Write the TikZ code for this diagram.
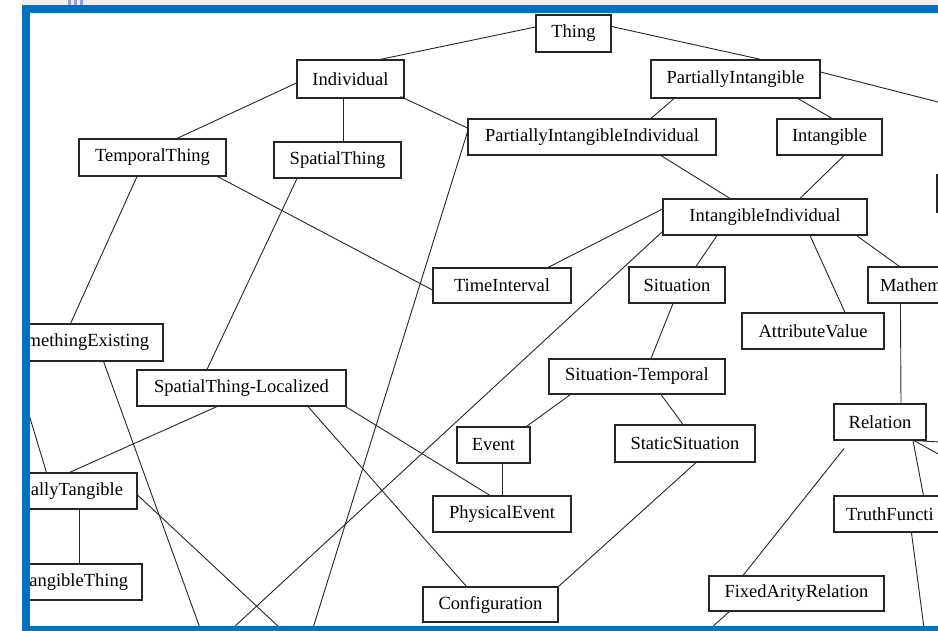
\documentclass[tikz,border=0pt]{standalone}
\usepackage{fontspec}
\setmainfont{Liberation Serif}
\usetikzlibrary{calc}
\definecolor{rahmen}{RGB}{0,112,192}
\definecolor{leiste}{RGB}{239,239,236}
\definecolor{marke}{RGB}{150,160,220}

\begin{document}
\begin{tikzpicture}[x=1pt, y=-1pt,
    box/.style={draw=black!85, line width=1.1pt, fill=white, inner sep=0pt, font=\fontsize{18.5}{22}\selectfont},
    kante/.style={black!85, line width=0.9pt}]

    \fill[white] (0,0) rectangle (938,631);
    \useasboundingbox (0,0) rectangle (938,631);

    \begin{scope}
        \clip (30,13) rectangle (938,626);

        \foreach \nm/\cx/\cy/\w/\h/\txt in {
                Thing/573.5/33.5/75/37/Thing,
                Indiv/350.5/79/107/38/Individual,
                PartInt/735.5/79/169/38/PartiallyIntangible,
                TempThing/152.5/157.5/147/37/TemporalThing,
                SpatThing/337.5/160/127/36/SpatialThing,
                PartIntInd/592/137/248/36/PartiallyIntangibleIndividual,
                Intang/829.5/137/105/36/Intangible,
                IntangInd/765/217/204/36/IntangibleIndividual,
                TimeInt/502/285.5/138/35/TimeInterval,
                Situation/677/285/96/36/Situation,
                AttrVal/813/331/142/36/AttributeValue,
                SpatLoc/241.5/388/209/36/SpatialThing-Localized,
                SitTemp/637/376.5/176/35/Situation-Temporal,
                Relation/880/422/92/36/Relation,
                Event/493.5/445/73/36/Event,
                StaticSit/685/443.5/140/37/StaticSituation,
                PhysEvent/502/514/138/36/PhysicalEvent,
                Config/490.5/604.5/135/35/Configuration,
                FixedArity/796.5/593.5/175/35/FixedArityRelation}{
                \node[box, minimum width=\w, minimum height=\h] (\nm) at (\cx,\cy) {\txt};
            }

        % boxes cut by the frame
        \node[box, minimum height=37, inner xsep=14pt, text width=125pt, align=right] (SomethExist) at (86.5,342.5) {methingExisting};
        \node[box, minimum height=36, inner xsep=14pt, text width=99pt, align=right] (PartTang) at (73.5,491) {allyTangible};
        \node[box, minimum height=36, inner xsep=14pt, text width=104pt, align=right] (TangThing) at (76,582) {angibleThing};
        \node[box, minimum height=36, inner xsep=12pt, text width=76pt, align=left] (Mathem) at (918,285) {Mathem};
        \node[box, minimum height=36, inner xsep=12pt, text width=96pt, align=left] (TruthFunc) at (894,514) {TruthFuncti};
        \node[box, minimum width=60, minimum height=37] (offbox) at (967,193.5) {};

        \coordinate (offC) at (233,628);
        \coordinate (offD) at (313,628);
        \coordinate (offE) at (200,628);
        \coordinate (offF) at (280,628);
        \coordinate (offG) at (924,628);
        \coordinate (offH) at (711,628);
        \coordinate (offL) at (24,398);
        \coordinate (offR1) at (940,102.5);
        \coordinate (offR2) at (940,442);
        \coordinate (offR3) at (940,455);

        \draw[kante] ([yshift=6.5pt]Thing.west) -- ([xshift=29.5pt]Indiv.north);
        \draw[kante] ([yshift=7pt]Thing.east) -- ([xshift=25.5pt]PartInt.north);

        \draw[kante] ([yshift=-4pt]Indiv.west) -- ([xshift=24.5pt]TempThing.north);
        \draw[kante] ([xshift=-7.5pt]Indiv.south) -- ([xshift=5.5pt]SpatThing.north);
        \draw[kante] ([xshift=-4pt,yshift=2pt]Indiv.south east) -- ([yshift=9pt]PartIntInd.west);

        \draw[kante] ([xshift=-61.5pt]PartInt.south) -- ([xshift=59pt]PartIntInd.north);
        \draw[kante] ([xshift=62.5pt]PartInt.south) -- ([xshift=2.5pt]Intang.north);
        \draw[kante] ([yshift=7pt]PartInt.east) -- (offR1);

        \draw[kante] ([xshift=-9pt]TempThing.south east) -- ([yshift=-4.5pt]TimeInt.west);
        \draw[kante] ([xshift=-15.5pt]TempThing.south) -- ([xshift=-93pt]SomethExist.north east);
        \draw[kante] ([xshift=-40.5pt]SpatThing.south) -- ([xshift=-34.5pt]SpatLoc.north);

        \draw[kante] ([yshift=5pt]PartIntInd.west) -- (offD);
        \draw[kante] ([xshift=69pt]PartIntInd.south) -- ([xshift=-35pt]IntangInd.north);
        \draw[kante] ([xshift=14.5pt]Intang.south) -- ([xshift=35pt]IntangInd.north);

        \draw[kante] ([yshift=8pt]IntangInd.west) -- ([xshift=46pt]TimeInt.north);
        \draw[kante] ([yshift=4pt]IntangInd.south west) -- (offC);
        \draw[kante] ([xshift=-48pt]IntangInd.south) -- ([xshift=19pt]Situation.north);
        \draw[kante] ([xshift=45pt]IntangInd.south) -- ([xshift=32pt]AttrVal.north);
        \draw[kante] ([xshift=-11pt]IntangInd.south east) -- ([xshift=32pt]Mathem.north west);

        \draw[kante] ([xshift=-4pt]Situation.south) -- ([xshift=14pt]SitTemp.north);
        \draw[kante] ([xshift=33pt]Mathem.south west) -- ([xshift=21pt]Relation.north);

        \draw[kante] ([xshift=22pt]SitTemp.south west) -- ([xshift=-4pt]Event.north east);
        \draw[kante] ([xshift=24pt]SitTemp.south) -- ([xshift=-2pt]StaticSit.north);
        \draw[kante] ([xshift=8.5pt]Event.south) -- (PhysEvent.north);
        \draw[kante] ([xshift=11pt]StaticSit.south) -- (Config.north east);

        \draw[kante] ([xshift=-36pt,yshift=-8pt]Relation.south) -- ([xshift=-53.5pt]FixedArity.north);
        \draw[kante] ([xshift=33pt]Relation.south) -- ([xshift=90pt]TruthFunc.north west);
        \draw[kante] ([xshift=34pt]Relation.south) -- (offR2);
        \draw[kante] ([xshift=34pt]Relation.south) -- (offR3);
        \draw[kante] ([xshift=78pt]TruthFunc.south west) -- (offG);
        \draw[kante] ([xshift=21pt]FixedArity.south west) -- (offH);

        \draw[kante] ([xshift=-60pt]SomethExist.south east) -- (offE);
        \draw[kante] (offL) -- ([xshift=37pt]PartTang.north west);
        \draw[kante] ([xshift=-24.5pt]SpatLoc.south) -- ([xshift=60pt]PartTang.north west);
        \draw[kante] ([yshift=-4pt]PartTang.east) -- (offF);
        \draw[kante] ([xshift=70pt]PartTang.south west) -- ([xshift=70pt]TangThing.north west);
        \draw[kante] ([xshift=66.5pt]SpatLoc.south) -- ([xshift=44pt]Config.north west);
        \draw[kante] ([xshift=-1pt]SpatLoc.south east) -- ([xshift=-12pt]PhysEvent.north);
    \end{scope}

    % frame
    \fill[leiste] (22,0) rectangle (938,5);
    \foreach \x in {68, 74, 80}{
            \fill[marke] (\x,0) rectangle ++(3,5);
        }
    \fill[rahmen] (22,5) rectangle (938,13);
    \fill[rahmen] (22,5) rectangle (30,631);
    \fill[rahmen] (22,626) rectangle (938,631);

\end{tikzpicture}
\end{document}
